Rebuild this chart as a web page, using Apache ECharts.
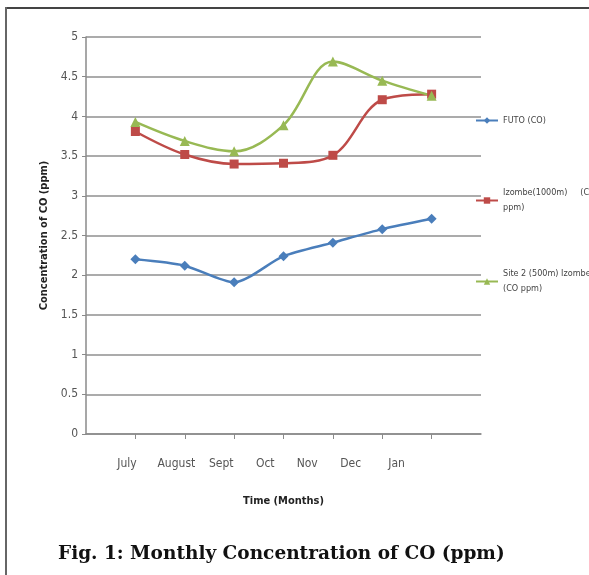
<!DOCTYPE html>
<html>
<head>
<meta charset="utf-8">
<script src="https://cdn.jsdelivr.net/npm/echarts@6/dist/echarts.min.js"></script>
<style>html,body{margin:0;padding:0;background:#fff}#c{width:589px;height:575px}</style>
</head>
<body>
<div id="c"></div>
<script>
// ---- data ----
const months = ['July', 'August', 'Sept', 'Oct', 'Nov', 'Dec', 'Jan'];
const futo = [2.2, 2.12, 1.91, 2.24, 2.41, 2.58, 2.71];
const izombe1000 = [3.81, 3.52, 3.40, 3.41, 3.51, 4.21, 4.28];
const site2 = [3.93, 3.69, 3.56, 3.89, 4.69, 4.45, 4.26];
const yTicks = [0, 0.5, 1, 1.5, 2, 2.5, 3, 3.5, 4, 4.5, 5];
const seriesNames = ['FUTO (CO)', 'Izombe(1000m)     (CO ppm)', 'Site 2 (500m) Izombe (CO ppm)'];
// label placement (as in the source, month labels are drawn offset from the points)
const labelPos = [0.83, 1.83, 2.74, 3.63, 4.48, 5.36, 6.29];

const font = "'Liberation Sans Narrow', 'DejaVu Sans Condensed', Lato, sans-serif";
const slots = [''].concat(months, ['']);
const toPts = arr => arr.map((v, i) => [i + 1, v]);

const chart = echarts.init(document.getElementById('c'));
chart.setOption({
  animation: false,
  title: {
    text: 'Fig. 1: Monthly Concentration of CO (ppm)',
    left: 53, top: 540,
    textStyle: { fontFamily: "'DejaVu Serif', serif", fontWeight: 'bold', fontSize: 18.5, color: '#111' }
  },
  grid: { left: 86, right: 108, top: 37, bottom: 141 },
  legend: [
    { data: [seriesNames[0]], left: 475, top: 116, padding: 0, orient: 'vertical', itemWidth: 22, itemHeight: 8,
      formatter: () => 'FUTO (CO)',
      textStyle: { fontFamily: font, fontSize: 9, color: '#444' } },
    { data: [seriesNames[1]], left: 475, top: 178, padding: 0, orient: 'vertical', itemWidth: 22, itemHeight: 8,
      formatter: () => 'Izombe(1000m)     (CO\nppm)',
      textStyle: { fontFamily: font, fontSize: 9, color: '#444', lineHeight: 15, padding: [15, 0, 0, 0] } },
    { data: [seriesNames[2]], left: 475, top: 259, padding: 0, orient: 'vertical', itemWidth: 22, itemHeight: 8,
      formatter: () => 'Site 2 (500m) Izombe\n(CO ppm)',
      textStyle: { fontFamily: font, fontSize: 9, color: '#444', lineHeight: 15, padding: [15, 0, 0, 0] } }
  ],
  xAxis: [
    {
      type: 'category', data: slots, boundaryGap: false,
      name: 'Time (Months)', nameLocation: 'middle', nameGap: 62,
      nameTextStyle: { fontFamily: font, fontSize: 11, fontWeight: 'bold', color: '#222' },
      axisLine: { lineStyle: { color: '#8a8a8a', width: 1.5 } },
      axisTick: { show: true, length: 5, interval: (i) => i > 0 && i < slots.length - 1, lineStyle: { color: '#8a8a8a' } },
      axisLabel: { show: false },
      splitLine: { show: false }
    },
    {
      type: 'value', min: 0, max: 8, position: 'bottom',
      axisLine: { show: false }, axisTick: { show: false }, splitLine: { show: false },
      axisLabel: {
        show: true, margin: 24, customValues: labelPos,
        formatter: (v) => { const i = labelPos.findIndex(p => Math.abs(p - v) < 1e-6); return i >= 0 ? months[i] : ''; },
        fontFamily: font, fontSize: 12, color: '#555'
      }
    }
  ],
  yAxis: {
    type: 'value', min: 0, max: 5, interval: 0.5,
    name: 'Concentration of CO (ppm)', nameLocation: 'middle', nameGap: 36,
    nameTextStyle: { fontFamily: font, fontSize: 11, fontWeight: 'bold', color: '#222' },
    axisLine: { show: true, lineStyle: { color: '#8a8a8a', width: 1.5 } },
    axisTick: { show: true, length: 4, lineStyle: { color: '#8a8a8a' } },
    axisLabel: { fontFamily: font, fontSize: 12, color: '#555', margin: 8,
      formatter: v => { const t = yTicks.find(x => Math.abs(x - v) < 1e-9); return t === undefined ? '' : String(t); } },
    splitLine: { lineStyle: { color: '#8f8f8f', width: 1.5 } }
  },
  series: [
    { name: seriesNames[0], type: 'line', xAxisIndex: 0, data: toPts(futo), smooth: 0.25,
      symbol: 'diamond', symbolSize: 10,
      itemStyle: { color: '#4a7ebb' }, lineStyle: { width: 2.5, color: '#4a7ebb' } },
    { name: seriesNames[1], type: 'line', xAxisIndex: 0, data: toPts(izombe1000), smooth: 0.35,
      symbol: 'rect', symbolSize: 9,
      itemStyle: { color: '#be4b48' }, lineStyle: { width: 2.5, color: '#be4b48' } },
    { name: seriesNames[2], type: 'line', xAxisIndex: 0, data: toPts(site2), smooth: 0.35,
      symbol: 'triangle', symbolSize: 10,
      itemStyle: { color: '#98b954' }, lineStyle: { width: 2.5, color: '#98b954' } }
  ],
  graphic: [
    { type: 'line', shape: { x1: 6, y1: 8, x2: 589, y2: 8 }, style: { stroke: '#444', lineWidth: 2 } },
    { type: 'line', shape: { x1: 6, y1: 7, x2: 6, y2: 575 }, style: { stroke: '#666', lineWidth: 2 } }
  ]
});
</script>
</body>
</html>
